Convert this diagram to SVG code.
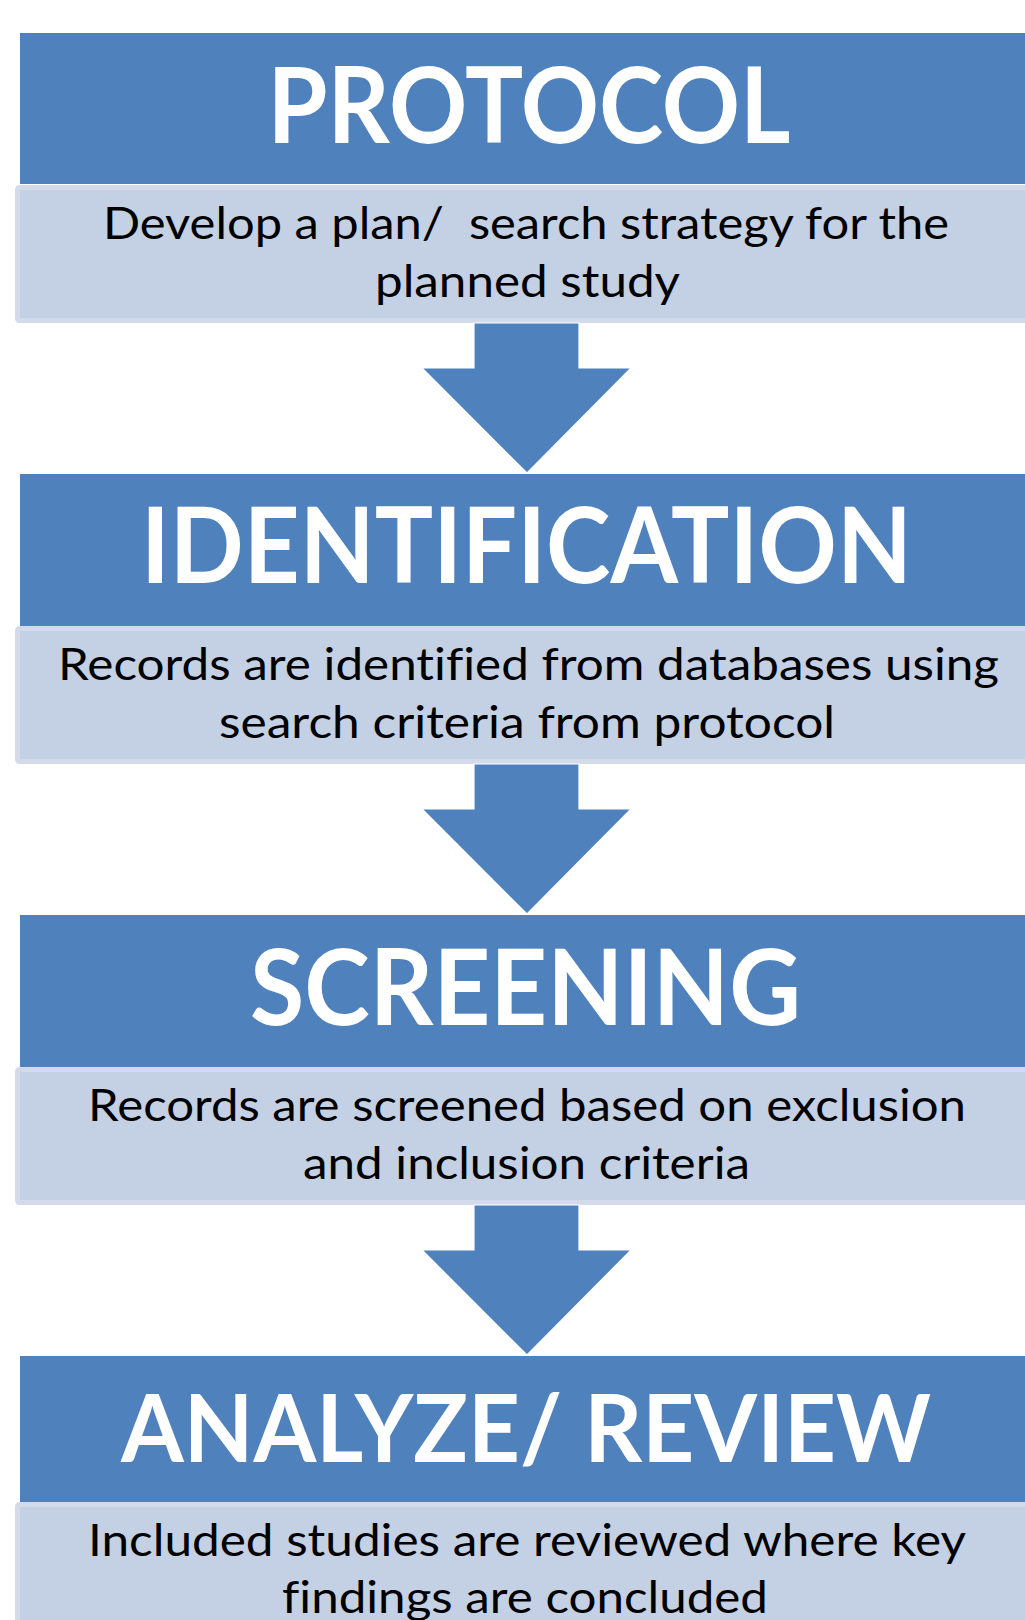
<svg xmlns="http://www.w3.org/2000/svg" width="1025" height="1620" viewBox="0 0 1025 1620">
<style>
.hd{fill:#4f81bd}
.bd{fill:#c4d0e3;stroke:#d3dbea;stroke-width:5}
.ht{font-family:Lato,"Open Sans",sans-serif;font-weight:bold;fill:#fff;text-anchor:middle;font-variant-ligatures:none}
.bt{font-family:Lato,"Open Sans",sans-serif;font-size:45px;fill:#000;text-anchor:middle;font-variant-ligatures:none}
.ar{fill:#4f81bd;stroke:#fff;stroke-width:1.2}
</style>
<rect width="1025" height="1620" fill="#fff"/>
<g id="protocol">
<rect class="hd" x="20" y="33" width="1010" height="151"/>
<text class="ht" x="529" y="143" font-size="106" textLength="523" lengthAdjust="spacingAndGlyphs">PROTOCOL</text>
<rect class="bd" x="17.5" y="187.5" width="1015" height="133" rx="2"/>
<text class="bt" x="526" y="239" textLength="846" lengthAdjust="spacingAndGlyphs" xml:space="preserve">Develop a plan/  search strategy for the</text>
<text class="bt" x="527.5" y="297" textLength="305" lengthAdjust="spacingAndGlyphs">planned study</text>
</g>
<g id="identification">
<rect class="hd" x="20" y="474" width="1010" height="152"/>
<text class="ht" x="526.5" y="583" font-size="106" textLength="771" lengthAdjust="spacingAndGlyphs">IDENTIFICATION</text>
<rect class="bd" x="17.5" y="628.5" width="1015" height="133" rx="2"/>
<text class="bt" x="528.5" y="680" textLength="941" lengthAdjust="spacingAndGlyphs">Records are identified from databases using</text>
<text class="bt" x="527" y="738" textLength="616" lengthAdjust="spacingAndGlyphs">search criteria from protocol</text>
</g>
<g id="screening">
<rect class="hd" x="20" y="915" width="1010" height="152"/>
<text class="ht" x="525.5" y="1025" font-size="106" textLength="551" lengthAdjust="spacingAndGlyphs">SCREENING</text>
<rect class="bd" x="17.5" y="1069.5" width="1015" height="133" rx="2"/>
<text class="bt" x="527" y="1121" textLength="878" lengthAdjust="spacingAndGlyphs">Records are screened based on exclusion</text>
<text class="bt" x="526.5" y="1179" textLength="447" lengthAdjust="spacingAndGlyphs">and inclusion criteria</text>
</g>
<g id="analyze-review">
<rect class="hd" x="20" y="1356" width="1010" height="146"/>
<text class="ht" x="526" y="1462" font-size="94" textLength="810" lengthAdjust="spacingAndGlyphs">ANALYZE/ REVIEW</text>
<rect class="bd" x="17.5" y="1504.5" width="1015" height="130" rx="2"/>
<text class="bt" x="527" y="1556" textLength="878" lengthAdjust="spacingAndGlyphs">Included studies are reviewed where key</text>
<text class="bt" x="525" y="1613" textLength="486" lengthAdjust="spacingAndGlyphs">findings are concluded</text>
</g>
<g id="connectors">
<path class="ar" d="M474,323 H579 V368 H631 L527,473 L422,368 H474 Z"/>
<path class="ar" d="M474,764 H579 V809 H631 L527,914 L422,809 H474 Z"/>
<path class="ar" d="M474,1205 H579 V1250 H631 L527,1355 L422,1250 H474 Z"/>
</g>
</svg>
